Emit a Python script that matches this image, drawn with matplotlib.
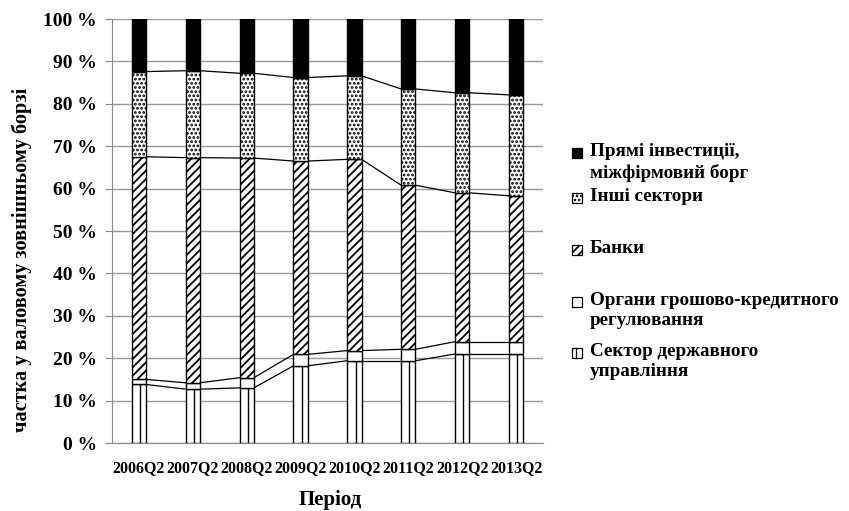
import matplotlib
matplotlib.use("Agg")
import matplotlib.pyplot as plt
import numpy as np
from matplotlib.patches import Rectangle
from matplotlib.lines import Line2D

plt.rcParams['font.family'] = ['Liberation Serif', 'DejaVu Serif']
plt.rcParams['font.weight'] = 'bold'
plt.rcParams['hatch.linewidth'] = 1.3

periods = ["2006Q2", "2007Q2", "2008Q2", "2009Q2", "2010Q2", "2011Q2", "2012Q2", "2013Q2"]
gov = [13.8, 12.7, 13.0, 18.2, 19.4, 19.4, 21.0, 21.0]
mon_auth = [1.2, 1.5, 2.4, 2.7, 2.4, 2.7, 2.9, 2.9]
banks = [52.5, 53.1, 51.8, 45.6, 45.1, 38.7, 35.1, 34.4]
other = [20.1, 20.5, 20.0, 19.7, 19.7, 22.7, 23.6, 23.8]
fdi = [12.4, 12.2, 12.8, 13.8, 13.4, 16.5, 17.4, 17.9]

series = [
    ("Сектор державного\nуправління", gov, "white", None),
    ("Органи грошово-кредитного\nрегулювання", mon_auth, "white", None),
    ("Банки", banks, "white", "////"),
    ("Інші сектори", other, "white", "...."),
    ("Прямі інвестиції,\nміжфірмовий борг", fdi, "black", None),
]

W, H = 849, 511
fig = plt.figure(figsize=(W / 100, H / 100), dpi=100)
ax = fig.add_axes([112 / W, 1 - 443 / H, (543 - 112) / W, (443 - 19) / H])

x = np.arange(len(periods))
bw = 0.265
bottom = np.zeros(len(periods))
tops = []
for k, (name, vals, fc, hatch) in enumerate(series):
    vals = np.array(vals, dtype=float)
    ax.bar(x, vals, bw, bottom=bottom, color=fc, edgecolor="black",
           hatch=hatch, linewidth=1.0, zorder=3)
    if k == 0:
        # vertical-stripe pattern of the government sector
        ax.vlines(x + bw * 0.08, bottom, bottom + vals, color="black", linewidth=1.0, zorder=4)
    bottom = bottom + vals
    tops.append(bottom.copy())

# series lines (connect segment tops between adjacent bars)
for t in tops[:-1]:
    for i in range(len(periods) - 1):
        ax.plot([x[i] + bw / 2, x[i + 1] - bw / 2], [t[i], t[i + 1]],
                color="black", linewidth=0.9, zorder=2)

ax.set_xlim(-0.5, len(periods) - 0.5)
ax.set_ylim(0, 100)
ax.set_yticks(np.arange(0, 101, 10))
ax.set_yticklabels([f"{v} %" for v in range(0, 101, 10)], fontsize=14, fontweight="bold")
ax.set_xticks(x)
ax.set_xticklabels(periods, fontsize=11.5, fontweight="bold")
ax.tick_params(axis="x", length=0, pad=12)
ax.tick_params(axis="y", length=5, color="#888888", pad=6)
ax.grid(axis="y", color="#999999", linewidth=1.0, zorder=0)
for s in ["top", "right"]:
    ax.spines[s].set_visible(False)
for s in ["left", "bottom"]:
    ax.spines[s].set_color("#888888")

fig.text(22 / W, 1 - 260 / H, "частка у валовому зовнішньому борзі", rotation=90,
         ha="center", va="center", fontsize=14.6, fontweight="bold")
fig.text(330 / W, 1 - 500 / H, "Період", ha="center", va="center", fontsize=15, fontweight="bold")

# legend (manual, Excel-like spacing)
leg_y = [153, 198, 250, 302, 353]
leg_items = list(reversed(series))
sz = 9.5
for k, ((name, vals, fc, hatch), yc) in enumerate(zip(leg_items, leg_y)):
    x0, y0 = 572 / W, 1 - (yc + sz / 2) / H
    r = Rectangle((x0, y0), sz / W, sz / H, transform=fig.transFigure,
                  facecolor=fc, edgecolor="black", hatch=hatch, linewidth=0.9)
    fig.add_artist(r)
    if k == len(leg_items) - 1:
        fig.add_artist(Line2D([x0 + 0.45 * sz / W] * 2, [y0, y0 + sz / H],
                              transform=fig.transFigure, color="black", linewidth=0.9))
    fig.text(590 / W, 1 - (yc - 10) / H, name, ha="left", va="top", fontsize=13.8,
             fontweight="bold", linespacing=1.25)

fig.savefig("out.png", dpi=100)
